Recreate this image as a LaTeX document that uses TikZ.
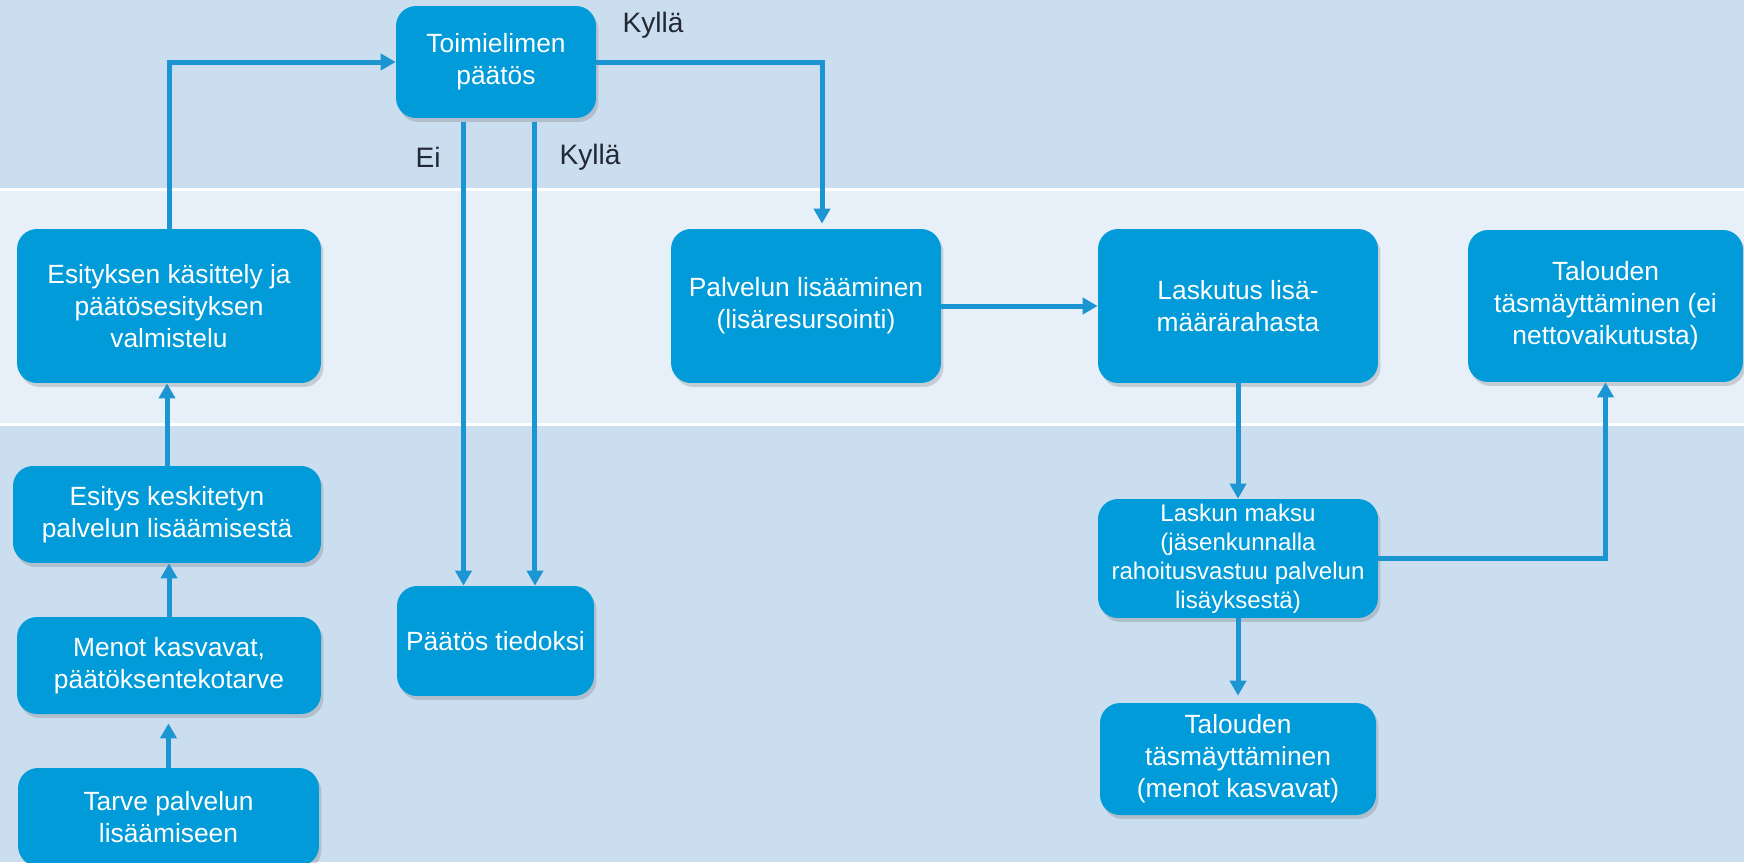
\documentclass[tikz,border=0pt]{standalone}
\usepackage{fontspec}
\setmainfont{Liberation Sans}
\usetikzlibrary{arrows.meta,shadows}

\definecolor{bandtop}{RGB}{203,222,239}
\definecolor{bandmid}{RGB}{231,239,248}
\definecolor{boxblue}{RGB}{0,155,216}
\definecolor{linkblue}{RGB}{27,150,210}
\definecolor{labeltext}{RGB}{34,40,52}

\begin{document}
\begin{tikzpicture}[x=0.02cm,y=-0.02cm,
	box/.style={rectangle,rounded corners=0.4cm,fill=boxblue,text=white,align=center,inner sep=0pt,
		font=\fontsize{15}{18.2}\selectfont,
		drop shadow={shadow xshift=0.05cm,shadow yshift=-0.08cm,opacity=0.25,fill=black!60}},
	link/.style={draw=linkblue,line width=0.1cm,-{Triangle[length=0.3cm,width=0.32cm]}},
	answer/.style={text=labeltext,font=\fontsize{16}{19}\selectfont}]
	\pgfmathsetmacro{\lw}{6.08}		%width of left column boxes
	\pgfmathsetmacro{\rw}{5.6}		%width of right column boxes
	\pgfmathsetmacro{\bh}{3.08}		%height of boxes in the middle band
	\pgfmathsetmacro{\gap}{0.65}	%offset of the "Ei" line
	\pgfmathsetmacro{\yes}{0.78}	%offset of the "Kyllä" line

	\useasboundingbox (0,0) rectangle (1744,862);

	%bands
	\fill[bandtop] (0,0) rectangle (1744,862);
	\fill[bandmid] (0,189) rectangle (1744,424);
	\draw[white,line width=0.06cm] (0,189) -- (1744,189) (0,424) -- (1744,424);

	%left column
	\node[box,minimum width=6.02cm,minimum height=1.96cm] (tarve) at (168.5,817) {Tarve palvelun\\lisäämiseen};
	\node[box,minimum width=\lw cm,minimum height=1.94cm] (menot) at (169,665.5) {Menot kasvavat,\\päätöksentekotarve};
	\node[box,minimum width=6.16cm,minimum height=1.94cm] (esitys) at (167,514.5) {Esitys keskitetyn\\palvelun lisäämisestä};
	\node[box,minimum width=\lw cm,minimum height=\bh cm] (esityksen) at (169,306) {Esityksen käsittely ja\\päätösesityksen\\valmistelu};

	%decision
	\node[box,minimum width=4cm,minimum height=2.24cm] (toimielin) at (496,62) {Toimielimen\\päätös};
	\node[box,minimum width=3.94cm,minimum height=2.2cm] (tiedoksi) at (495.5,641) {Päätös tiedoksi};

	%right part
	\node[box,minimum width=5.4cm,minimum height=\bh cm] (palvelu) at (806,306) {Palvelun lisääminen\\(lisäresursointi)};
	\node[box,minimum width=\rw cm,minimum height=\bh cm] (laskutus) at (1238,306) {Laskutus lisä-\\määrärahasta};
	\node[box,minimum width=5.5cm,minimum height=3.04cm] (netto) at (1605.5,306) {Talouden\\täsmäyttäminen (ei\\nettovaikutusta)};
	\node[box,minimum width=\rw cm,minimum height=2.38cm,font=\fontsize{13.7}{16.5}\selectfont] (maksu) at (1238,558.5) {Laskun maksu\\(jäsenkunnalla\\rahoitusvastuu palvelun\\lisäyksestä)};
	\node[box,minimum width=5.52cm,minimum height=2.24cm] (menot2) at (1238,759) {Talouden\\täsmäyttäminen\\(menot kasvavat)};

	%answers
	\node[answer] (kylla1) at (653,25) {Kyllä};
	\node[answer] (ei) at (428,157) {Ei};
	\node[answer] (kylla2) at (590,157) {Kyllä};

	%start points of the two decision lines
	\coordinate (eitop) at ([xshift=-\gap cm]toimielin.south);
	\coordinate (yestop) at ([xshift=\yes cm]toimielin.south);

	%connectors
	\draw[link,shorten >=0.18cm] (tarve.north) -- (tarve.north |- menot.south);
	\draw[link] (menot.north) -- (menot.north |- esitys.south);
	\draw[link] (esitys.north) -- (esitys.north |- esityksen.south);
	\draw[link] (esityksen.north) |- (toimielin.west);
	\draw[link,shorten >=0.1cm] (toimielin.east) -| ([xshift=0.32cm]palvelu.north);
	\draw[link,shorten <=0.08cm] (eitop) -- (eitop |- tiedoksi.north);
	\draw[link,shorten <=0.08cm] (yestop) -- (yestop |- tiedoksi.north);
	\draw[link] (palvelu) -- (laskutus);
	\draw[link] (laskutus) -- (maksu);
	\draw[link,shorten >=0.14cm] (maksu) -- (menot2);
	\draw[link] (maksu.east) -| (netto.south);

\end{tikzpicture}
\end{document}
